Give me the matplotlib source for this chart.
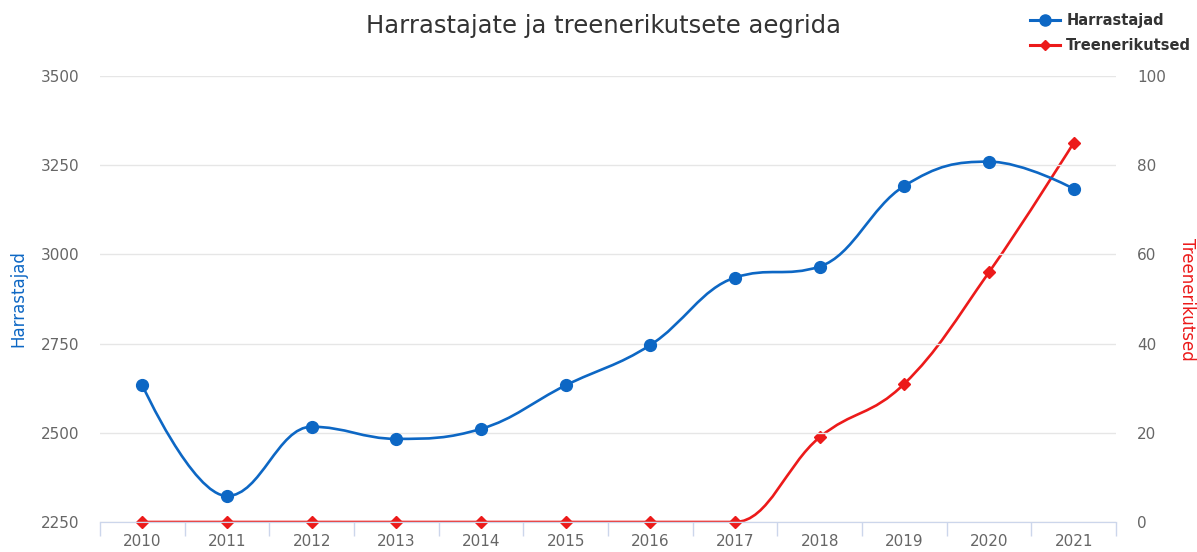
import matplotlib.pyplot as plt
from matplotlib.path import Path
from matplotlib.patches import PathPatch
from matplotlib.lines import Line2D

# data
years = ['2010', '2011', '2012', '2013', '2014', '2015',
         '2016', '2017', '2018', '2019', '2020', '2021']
harrastajad = [2633, 2323, 2517, 2483, 2511, 2633,
               2746, 2935, 2966, 3192, 3260, 3184]
treenerikutsed = [0, 0, 0, 0, 0, 0, 0, 0, 19, 31, 56, 85]

blue = '#0d67c4'
red = '#ec1a1a'
grey = '#666666'


def spline_path(xs, ys, smoothing=1.5):
    # highcharts style spline: cubic bezier with clamped control points
    n = len(xs)
    denom = smoothing + 1
    left = [(xs[i], ys[i]) for i in range(n)]
    right = [(xs[i], ys[i]) for i in range(n)]
    for i in range(1, n - 1):
        x, y = xs[i], ys[i]
        lx, ly = xs[i - 1], ys[i - 1]
        nx, ny = xs[i + 1], ys[i + 1]
        lcx = (smoothing * x + lx) / denom
        lcy = (smoothing * y + ly) / denom
        rcx = (smoothing * x + nx) / denom
        rcy = (smoothing * y + ny) / denom
        corr = ((rcy - lcy) * (rcx - x)) / (rcx - lcx) + y - rcy
        lcy += corr
        rcy += corr
        if lcy > ly and lcy > y:
            lcy = max(ly, y)
            rcy = 2 * y - lcy
        elif lcy < ly and lcy < y:
            lcy = min(ly, y)
            rcy = 2 * y - lcy
        if rcy > ny and rcy > y:
            rcy = max(ny, y)
            lcy = 2 * y - rcy
        elif rcy < ny and rcy < y:
            rcy = min(ny, y)
            lcy = 2 * y - rcy
        left[i] = (lcx, lcy)
        right[i] = (rcx, rcy)
    verts = [(xs[0], ys[0])]
    codes = [Path.MOVETO]
    for i in range(1, n):
        verts += [right[i - 1], left[i], (xs[i], ys[i])]
        codes += [Path.CURVE4] * 3
    return Path(verts, codes)


fig = plt.figure(figsize=(11.97, 5.52), dpi=100)
ax = fig.add_axes([100 / 1197, 30 / 552, 1016 / 1197, 446 / 552])
ax2 = ax.twinx()

xs = list(range(len(years)))

ax.add_patch(PathPatch(spline_path(xs, harrastajad), fill=False,
                       edgecolor=blue, lw=1.9, zorder=3))
ax.plot(xs, harrastajad, 'o', color=blue, ms=8.5, zorder=4, clip_on=False)

ax2.add_patch(PathPatch(spline_path(xs, treenerikutsed), fill=False,
                        edgecolor=red, lw=1.9, zorder=3))
ax2.plot(xs, treenerikutsed, 'D', color=red, ms=6, zorder=4, clip_on=False)

ax.set_xlim(-0.5, len(years) - 0.5)
ax.set_ylim(2250, 3500)
ax.set_yticks([2250, 2500, 2750, 3000, 3250, 3500])
ax2.set_ylim(0, 100)
ax2.set_yticks([0, 20, 40, 60, 80, 100])

ax.set_xticks(xs)
ax.set_xticklabels(years)
ax.set_xticks([x - 0.5 for x in range(len(years) + 1)], minor=True)
ax.tick_params(axis='x', which='major', length=0, pad=9,
               labelsize=11, labelcolor=grey)
ax.tick_params(axis='x', which='minor', length=10, width=1, color='#ccd6eb')
ax.tick_params(axis='y', length=0, pad=15, labelsize=11, labelcolor=grey)
ax2.tick_params(axis='y', length=0, pad=15, labelsize=11, labelcolor=grey)

ax.grid(axis='y', color='#e6e6e6', lw=1)
ax.set_axisbelow(True)
for a in (ax, ax2):
    for s in ('top', 'left', 'right'):
        a.spines[s].set_visible(False)
    a.spines['bottom'].set_color('#ccd6eb')

ax.set_zorder(ax2.get_zorder() + 1)
ax.patch.set_visible(False)

fig.text(18 / 1197, 1 - 299 / 552, 'Harrastajad', color=blue, fontsize=12,
         rotation=90, ha='center', va='center')
fig.text(1187 / 1197, 1 - 299 / 552, 'Treenerikutsed', color=red, fontsize=12,
         rotation=270, ha='center', va='center')

fig.text(604 / 1197, 1 - 26 / 552, 'Harrastajate ja treenerikutsete aegrida',
         ha='center', va='center', fontsize=17.5, color='#333333')

handles = [Line2D([], [], color=blue, lw=2.2, marker='o', ms=8),
           Line2D([], [], color=red, lw=2.2, marker='D', ms=5.5)]
leg = fig.legend(handles, ['Harrastajad', 'Treenerikutsed'],
                 loc='upper right', bbox_to_anchor=(1.0, 1 - 7 / 552),
                 frameon=False, handlelength=2.0, handletextpad=0.45,
                 labelspacing=0.7, borderaxespad=0.0,
                 prop={'weight': 'bold', 'size': 10.5})
for t in leg.get_texts():
    t.set_color('#333333')

fig.savefig('out.png', dpi=100)
